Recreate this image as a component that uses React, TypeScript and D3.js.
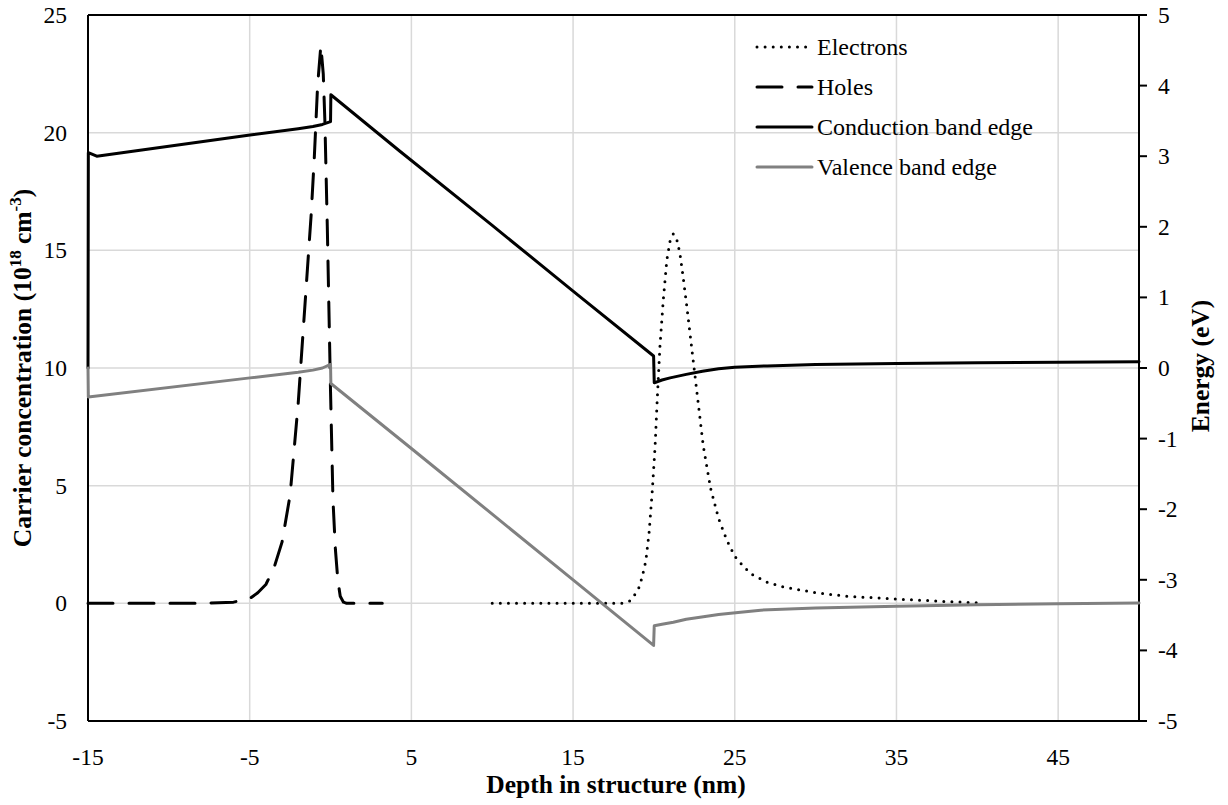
import React from "react";
import * as d3 from "d3";

// ---- data ----
const xTicks = [-15, -5, 5, 15, 25, 35, 45];
const leftTicks = [-5, 0, 5, 10, 15, 20, 25];
const rightTicks = [-5, -4, -3, -2, -1, 0, 1, 2, 3, 4, 5];

// Electrons (10^18 cm^-3), left axis
const elecX = [10, 15, 18, 18.5, 18.8, 19.1, 19.3, 19.5, 19.7, 19.9, 20.07, 20.2, 20.37, 20.58, 20.8, 21.0, 21.2, 21.4, 21.6, 21.8, 22.02, 22.5, 23.05, 23.5, 24, 24.5, 25, 25.5, 26, 27, 28, 30, 32, 35, 38, 40];
const elecY = [0, 0, 0, 0.1, 0.35, 0.7, 1.2, 1.8, 3.0, 4.8, 6.65, 8.6, 10.9, 12.9, 14.6, 15.4, 15.7, 15.5, 14.9, 13.9, 12.7, 9.9, 6.7, 4.9, 3.6, 2.7, 2.0, 1.6, 1.25, 0.9, 0.7, 0.45, 0.3, 0.18, 0.08, 0.02];

// Holes (10^18 cm^-3), left axis
const holeX = [-15, -8, -6, -5, -4.5, -4, -3.5, -3, -2.5, -2, -1.5, -1.2, -1.0, -0.8, -0.6, -0.45, -0.35, -0.2, 0, 0.15, 0.3, 0.45, 0.6, 0.8, 1.0, 3.2];
const holeY = [0, 0, 0.05, 0.2, 0.45, 0.8, 1.5, 2.6, 4.6, 8.5, 13.5, 16.5, 19.0, 22.0, 23.7, 22.5, 20.5, 16.0, 9.0, 4.4, 2.3, 1.0, 0.3, 0.05, 0, 0];

// Conduction band edge (eV), right axis
const cbX = [-15, -14.98, -14.46, -4.98, -2, -1.09, -0.5, 0, 0.02, 4.29, 10, 15, 19.98, 20.02, 20.5, 21, 22, 23, 24, 25, 27, 30, 35, 40, 45, 50];
const cbE = [0.0, 3.05, 3.0, 3.30, 3.39, 3.42, 3.45, 3.49, 3.87, 3.07, 2.02, 1.09, 0.17, -0.21, -0.17, -0.14, -0.09, -0.045, -0.01, 0.01, 0.03, 0.05, 0.065, 0.075, 0.083, 0.09];

// Valence band edge (eV), right axis
const vbX = [-15, -14.98, -4.98, -2, -1.09, -0.5, 0, 0.02, 5, 10, 15, 19.98, 20.02, 20.5, 21.2, 22, 22.85, 24, 24.9, 26.6, 30, 35, 40, 45, 50];
const vbE = [0.0, -0.41, -0.14, -0.06, -0.03, 0.0, 0.05, -0.22, -1.14, -2.07, -3.0, -3.93, -3.65, -3.63, -3.60, -3.56, -3.53, -3.49, -3.47, -3.43, -3.40, -3.375, -3.355, -3.34, -3.33];

const legendLabels = ["Electrons", "Holes", "Conduction band edge", "Valence band edge"];

const W = 1228;
const H = 805;
const L = 88, R = 1139, T = 15, B = 721;
const FONT = "Liberation Serif";

export default function App() {
  const x = d3.scaleLinear().domain([-15, 50]).range([L, R]);
  const yL = d3.scaleLinear().domain([-5, 25]).range([B, T]);
  const yR = d3.scaleLinear().domain([-5, 5]).range([B, T]);

  const lineL = d3.line<[number, number]>().x(d => x(d[0])).y(d => yL(d[1]));
  const lineR = d3.line<[number, number]>().x(d => x(d[0])).y(d => yR(d[1]));

  const zip = (a: number[], b: number[]) => a.map((v, i) => [v, b[i]] as [number, number]);

  const elecPath = lineL(zip(elecX, elecY)) || "";
  const holePath = lineL(zip(holeX, holeY)) || "";
  const cbPath = lineR(zip(cbX, cbE)) || "";
  const vbPath = lineR(zip(vbX, vbE)) || "";

  const styles = [
    { stroke: "#000", dash: "0 8.1" },
    { stroke: "#000", dash: "25 16" },
    { stroke: "#000", dash: "" },
    { stroke: "#808080", dash: "" },
  ];

  const legendY = [47, 87, 127, 167];

  return (
    <svg width={W} height={H} style={{ position: "absolute", left: 0, top: 0, background: "#fff" }}>
      <rect x={0} y={0} width={W} height={H} fill="#fff" />
      {/* gridlines */}
      {leftTicks.filter(t => t > -5 && t < 25).map(t => (
        <line key={"gh" + t} x1={L} x2={R} y1={yL(t)} y2={yL(t)} stroke="#d9d9d9" strokeWidth={1.5} />
      ))}
      {xTicks.filter(t => t > -15).map(t => (
        <line key={"gv" + t} x1={x(t)} x2={x(t)} y1={T} y2={B} stroke="#d9d9d9" strokeWidth={1.5} />
      ))}
      {/* frame */}
      <line x1={L} x2={R} y1={T} y2={T} stroke="#000" strokeWidth={2} />
      <line x1={L} x2={R} y1={B} y2={B} stroke="#000" strokeWidth={2} />
      <line x1={L} x2={L} y1={T} y2={B} stroke="#000" strokeWidth={2} />
      <line x1={R} x2={R} y1={T - 1} y2={B + 1} stroke="#000" strokeWidth={2} />
      {rightTicks.map(t => (
        <line key={"rt" + t} x1={R} x2={R + 8} y1={yR(t)} y2={yR(t)} stroke="#000" strokeWidth={2} />
      ))}
      {/* series */}
      <path d={elecPath} fill="none" stroke="#000" strokeWidth={3} strokeDasharray="0 8.1" strokeLinecap="round" />
      <path d={holePath} fill="none" stroke="#000" strokeWidth={3} strokeDasharray="25 16" strokeLinecap="round" strokeLinejoin="round" />
      <path d={cbPath} fill="none" stroke="#000" strokeWidth={3} strokeLinejoin="round" strokeLinecap="round" />
      <path d={vbPath} fill="none" stroke="#808080" strokeWidth={3} strokeLinejoin="round" strokeLinecap="round" />
      {/* tick labels */}
      {leftTicks.map(t => (
        <text key={"ll" + t} x={67} y={yL(t) + 8} textAnchor="end" fontFamily={FONT} fontSize={23.5} fill="#000">{t}</text>
      ))}
      {rightTicks.map(t => (
        <text key={"rl" + t} x={1158} y={yR(t) + 8} textAnchor="start" fontFamily={FONT} fontSize={23.5} fill="#000">{t}</text>
      ))}
      {xTicks.map(t => (
        <text key={"xl" + t} x={x(t)} y={765} textAnchor="middle" fontFamily={FONT} fontSize={23.5} fill="#000">{t}</text>
      ))}
      {/* axis titles */}
      <text x={616} y={793} textAnchor="middle" fontFamily={FONT} fontSize={25.5} fontWeight="bold">Depth in structure (nm)</text>
      <text transform="translate(31,368) rotate(-90)" textAnchor="middle" fontFamily={FONT} fontSize={25.5} fontWeight="bold">
        Carrier concentration (10<tspan fontSize={17} dy={-10}>18</tspan><tspan dy={10}> cm</tspan><tspan fontSize={17} dy={-10}>-3</tspan><tspan dy={10}>)</tspan>
      </text>
      <text transform="translate(1209,366) rotate(-90)" textAnchor="middle" fontFamily={FONT} fontSize={25.5} fontWeight="bold">Energy (eV)</text>
      {/* legend */}
      {legendLabels.map((lab, i) => (
        <g key={lab}>
          <line x1={757} x2={812} y1={legendY[i]} y2={legendY[i]} stroke={styles[i].stroke} strokeWidth={3}
            strokeDasharray={styles[i].dash || undefined} strokeLinecap="round" />
          <text x={817} y={legendY[i] + 8} fontFamily={FONT} fontSize={24} fill="#000">{lab}</text>
        </g>
      ))}
    </svg>
  );
}
